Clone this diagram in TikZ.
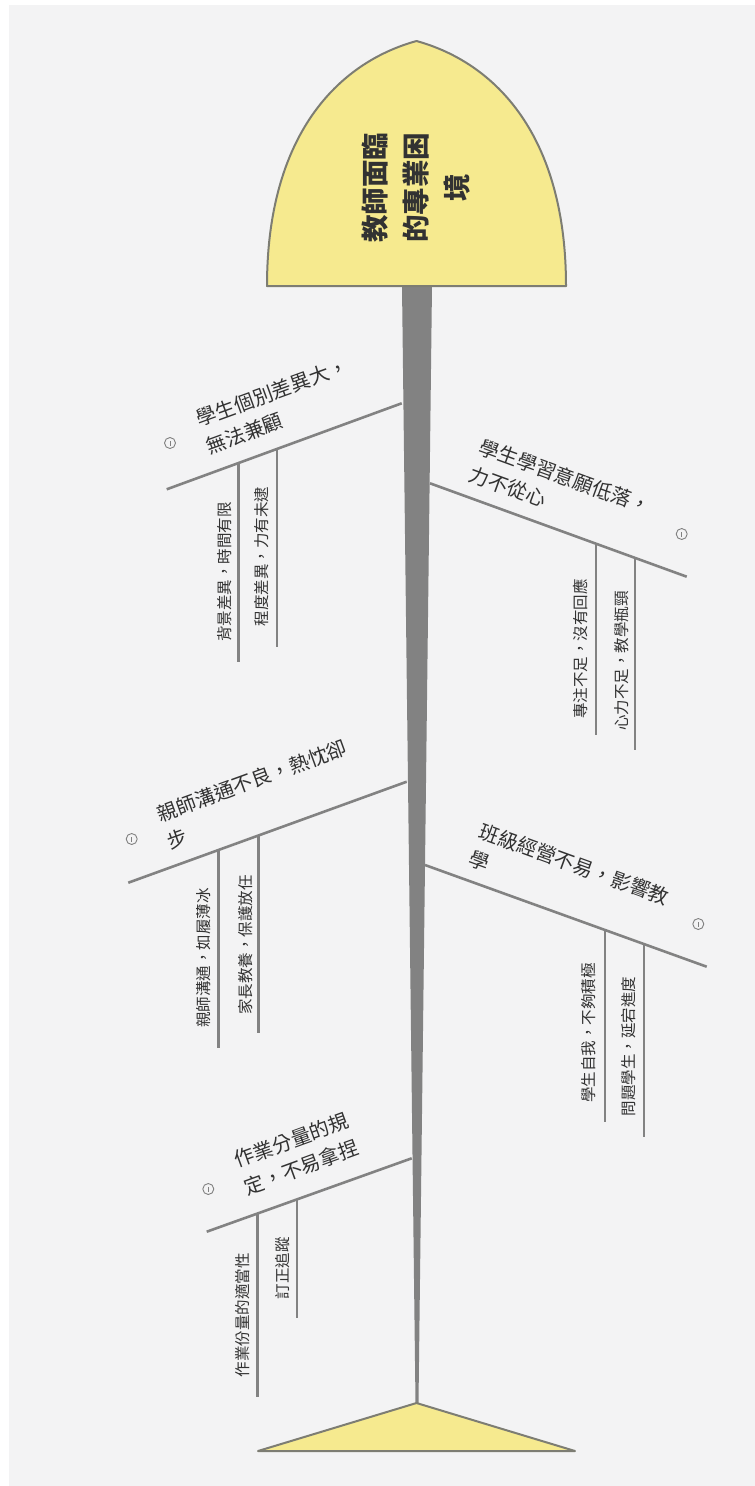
\documentclass[tikz,border=0pt]{standalone}
\usepackage{fontspec}
\newfontfamily\cjk{Noto Sans CJK TC}
\usetikzlibrary{calc}
\definecolor{bgc}{RGB}{243,243,244}
\definecolor{bone}{RGB}{130,130,130}
\definecolor{headfill}{RGB}{246,234,143}
\definecolor{headline}{RGB}{125,125,115}
\definecolor{txt}{RGB}{50,50,50}
\begin{document}
\begin{tikzpicture}[x=1pt,y=-1pt,
  headshape/.style={fill=headfill, draw=headline, line width=2pt, line join=round},
  branch/.style={draw=bone, line width=2.6pt},
  subline/.style={draw=bone, line width=2.4pt},
  headtext/.style={font=\cjk\bfseries\fontsize{27.5}{41}\selectfont, text=txt, align=center, rotate=90, inner sep=0pt},
  btext/.style={font=\cjk\fontsize{20}{29}\selectfont, text=txt, align=left, inner sep=0pt, anchor=south west},
  stext/.style={font=\cjk\fontsize{15.5}{18}\selectfont, text=txt, rotate=90, inner sep=0pt},
  icon/.style={circle, draw=gray, line width=0.9pt, minimum size=11pt, inner sep=0pt,
    path picture={\draw[gray,line width=0.9pt] ([yshift=-2.5pt]path picture bounding box.center) -- ([yshift=2.5pt]path picture bounding box.center);}}
]
\useasboundingbox (0,0) rectangle (755,1486);
\fill[white] (0,0) rectangle (755,1486);
\fill[bgc] (9,5) rectangle (755,1486);

% spine
\coordinate (spT) at (417,286);
\coordinate (spB) at (417,1403);
\fill[bone] ($(spT)+(-15,0)$) -- ($(spT)+(15,0)$) -- ($(spB)+(1.5,0)$) -- ($(spB)+(-1.5,0)$) -- cycle;

% head
\draw[headshape] (267,286) .. controls (267,136) and (337,63) .. (416.5,41) .. controls (496,63) and (566,136) .. (566,286) -- cycle;
\node[headtext] (head) at (416.5,187.5) {教師面臨\\的專業困\\境};

% tail
\draw[headshape] (258,1451) -- (416.5,1403) -- (575,1451) -- cycle;

% branch 1
\coordinate (b1s) at (401.7,403.3);
\coordinate (b1e) at (166.7,489.3);
\draw[branch] (b1s) -- (b1e);
\node[btext, rotate=20] (t1) at (210,456) {學生個別差異大，\\無法兼顧};
\node[icon] (i1) at (170,443) {};
\coordinate (s11t) at (238.3,463.1); \coordinate (s11b) at (238.3,661.7);
\coordinate (s12t) at (276.7,449.0); \coordinate (s12b) at (276.7,646.7);
\draw[subline] (s11t) -- (s11b);
\draw[subline] (s12t) -- (s12b);
\node[stext] (u11) at (224.5,572) {背景差異，時間有限};
\node[stext] (u12) at (261.7,556.5) {程度差異，力有未逮};

% branch 2
\coordinate (b2s) at (430,483.3);
\coordinate (b2e) at (686.7,576.7);
\draw[branch] (b2s) -- (b2e);
\node[btext, rotate=-20] (t2) at (467,482) {學生學習意願低落，\\力不從心};
\node[icon] (i2) at (681.7,534) {};
\coordinate (s21t) at (595.7,543.5); \coordinate (s21b) at (595.7,735);
\coordinate (s22t) at (635,557.8); \coordinate (s22b) at (635,750);
\draw[subline] (s21t) -- (s21b);
\draw[subline] (s22t) -- (s22b);
\node[stext] (u21) at (580,649) {專注不足，沒有回應};
\node[stext] (u22) at (621.7,661) {心力不足，教學瓶頸};

% branch 3
\coordinate (b3s) at (406.7,781.7);
\coordinate (b3e) at (128.3,882.7);
\draw[branch] (b3s) -- (b3e);
\node[btext, rotate=20] (t3) at (171,851) {親師溝通不良，熱忱卻\\步};
\node[icon] (i3) at (131.7,839) {};
\coordinate (s31t) at (218.3,850.0); \coordinate (s31b) at (218.3,1048);
\coordinate (s32t) at (258.3,835.5); \coordinate (s32b) at (258.3,1033);
\draw[subline] (s31t) -- (s31b);
\draw[subline] (s32t) -- (s32b);
\node[stext] (u31) at (204,958) {親師溝通，如履薄冰};
\node[stext] (u32) at (245.5,945) {家長教養，保護放任};

% branch 4
\coordinate (b4s) at (425,865);
\coordinate (b4e) at (706.7,966.7);
\draw[branch] (b4s) -- (b4e);
\node[btext, rotate=-20] (t4) at (467,866) {班級經營不易，影響教\\學};
\node[icon] (i4) at (698.3,924) {};
\coordinate (s41t) at (605,930); \coordinate (s41b) at (605,1121.7);
\coordinate (s42t) at (644,944); \coordinate (s42b) at (644,1136.7);
\draw[subline] (s41t) -- (s41b);
\draw[subline] (s42t) -- (s42b);
\node[stext] (u41) at (589,1033) {學生自我，不夠積極};
\node[stext] (u42) at (629,1046.7) {問題學生，延宕進度};

% branch 5
\coordinate (b5s) at (411.7,1158.3);
\coordinate (b5e) at (206.7,1231.7);
\draw[branch] (b5s) -- (b5e);
\node[btext, rotate=20] (t5) at (248,1197) {作業分量的規\\定，不易拿捏};
\node[icon] (i5) at (208.3,1189) {};
\coordinate (s51t) at (257.3,1213.6); \coordinate (s51b) at (257.3,1396.7);
\coordinate (s52t) at (296.7,1199.5); \coordinate (s52b) at (296.7,1318.3);
\draw[subline] (s51t) -- (s51b);
\draw[subline] (s52t) -- (s52b);
\node[stext] (u51) at (242.5,1315) {作業份量的適當性};
\node[stext] (u52) at (282.5,1268) {訂正追蹤};
\end{tikzpicture}
\end{document}
